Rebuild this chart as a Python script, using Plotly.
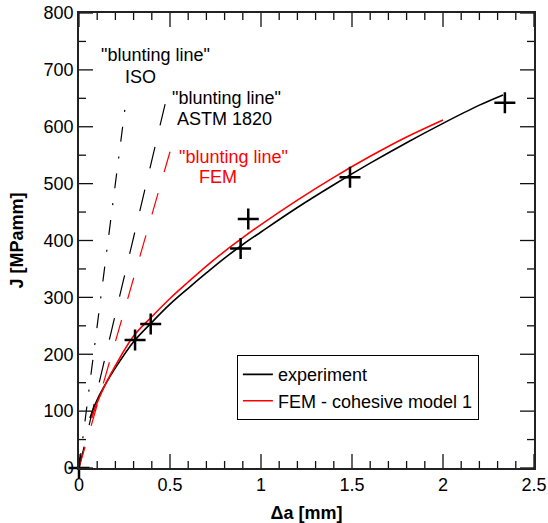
import plotly.graph_objects as go

# Crack growth resistance: J-integral versus crack extension
exp_da = [0.06, 0.1, 0.15, 0.2, 0.3, 0.4, 0.5, 0.6, 0.7, 0.8, 0.9, 1.0,
          1.2, 1.4, 1.6, 1.8, 2.0, 2.2, 2.33]
exp_J = [88, 120, 150, 176, 222, 256, 288, 316, 343, 369, 393, 415,
         458, 498, 536, 572, 606, 638, 656]

fem_da = [0.07, 0.1, 0.15, 0.2, 0.3, 0.4, 0.5, 0.6, 0.7, 0.8, 0.9, 1.0,
          1.2, 1.4, 1.6, 1.8, 2.0]
fem_J = [88, 115, 150, 180, 232, 266, 298, 327, 355, 381, 405, 428,
         471, 511, 548, 582, 612]

# measured points
pts_da = [0.0, 0.308, 0.394, 0.888, 0.93, 1.489, 2.34]
pts_J = [0, 225, 253, 386, 438, 511, 642]

# blunting lines (start and end points)
iso_da = [0.0, 0.255]
iso_J = [0, 638]
astm_da = [0.0, 0.477]
astm_J = [0, 645]
femb_da = [0.0, 0.5]
femb_J = [0, 556]

# axis ranges and tick positions
X_RANGE = [0, 2.5]
Y_RANGE = [0, 800]
x_major = [0.0, 0.5, 1.0, 1.5, 2.0, 2.5]
x_minor = [round(0.1 * i, 1) for i in range(26)]
y_major = [0, 100, 200, 300, 400, 500, 600, 700, 800]
y_minor = [50 * i for i in range(17)]

FONT = "Liberation Sans, Arial, sans-serif"

fig = go.Figure()

fig.add_trace(go.Scatter(x=iso_da, y=iso_J, mode="lines", showlegend=False,
                         line=dict(color="black", width=1.2, dash="15px,15px,2px,15px")))
fig.add_trace(go.Scatter(x=astm_da, y=astm_J, mode="lines", showlegend=False,
                         line=dict(color="black", width=1.2, dash="22px,22px")))
fig.add_trace(go.Scatter(x=femb_da, y=femb_J, mode="lines", showlegend=False,
                         line=dict(color="red", width=1.2, dash="22px,22px")))

fig.add_trace(go.Scatter(x=exp_da, y=exp_J, mode="lines", name="experiment",
                         line=dict(color="black", width=1.6, shape="spline")))
fig.add_trace(go.Scatter(x=fem_da, y=fem_J, mode="lines", name="FEM - cohesive model 1",
                         line=dict(color="red", width=1.6, shape="spline")))

fig.add_trace(go.Scatter(x=pts_da, y=pts_J, mode="markers", showlegend=False,
                         cliponaxis=False,
                         marker=dict(symbol="cross-thin", size=15, color="black",
                                     line=dict(color="black", width=2.5))))

# inward tick marks on all four sides of the frame, drawn as one segmented path
PLOT_W, PLOT_H = 455, 455          # plot area size in pixels
px_x = (X_RANGE[1] - X_RANGE[0]) / PLOT_W   # data units per pixel (x)
px_y = (Y_RANGE[1] - Y_RANGE[0]) / PLOT_H   # data units per pixel (y)
tx, ty = [], []
for v in x_minor:
    n = 14 if v in x_major else 7
    tx += [v, v, None, v, v, None]
    ty += [Y_RANGE[0], Y_RANGE[0] + n * px_y, None, Y_RANGE[1], Y_RANGE[1] - n * px_y, None]
for v in y_minor:
    n = 14 if v in y_major else 7
    tx += [X_RANGE[0], X_RANGE[0] + n * px_x, None, X_RANGE[1], X_RANGE[1] - n * px_x, None]
    ty += [v, v, None, v, v, None]
fig.add_trace(go.Scatter(x=tx, y=ty, mode="lines", showlegend=False, hoverinfo="skip",
                         cliponaxis=False, line=dict(color="#111", width=1.3)))

labels = [
    ('"blunting line"', 0.42, 726, "black"),
    ("ISO", 0.339, 688, "black"),
    ('"blunting line"', 0.811, 650, "black"),
    ("ASTM 1820", 0.802, 613, "black"),
    ('"blunting line"', 0.85, 547, "red"),
    ("FEM", 0.761, 512, "red"),
]
for text, x, y, col in labels:
    fig.add_annotation(x=x, y=y, text=text, showarrow=False,
                       font=dict(family=FONT, size=18, color=col),
                       xanchor="center", yanchor="middle")

common = dict(
    showline=True, linecolor="#222", linewidth=1.5, mirror=True,
    ticks="", showgrid=False, zeroline=False, automargin=False,
    tickfont=dict(family=FONT, size=18, color="black"),
)

fig.update_layout(
    template="simple_white",
    width=548, height=523,
    margin=dict(l=79, r=14, t=13, b=55),
    plot_bgcolor="white", paper_bgcolor="white",
    font=dict(family=FONT, size=18, color="black"),
    xaxis=dict(range=X_RANGE, tickmode="array", tickvals=x_major,
               ticktext=["0", "0.5", "1", "1.5", "2", "2.5"],
               title=dict(text="<b>Δa [mm]</b>", font=dict(family=FONT, size=18, color="black")),
               **common),
    yaxis=dict(range=Y_RANGE, tickmode="array", tickvals=y_major,
               ticktext=[str(v) for v in y_major],
               title=dict(text="<b>J [MPamm]</b>", font=dict(family=FONT, size=18, color="black")),
               **common),
    legend=dict(x=0.347, y=0.248, xanchor="left", yanchor="top",
                bgcolor="white", bordercolor="black", borderwidth=1,
                font=dict(family=FONT, size=18, color="black"),
                itemwidth=30, tracegroupgap=0),
)

fig.write_html("out.html")
